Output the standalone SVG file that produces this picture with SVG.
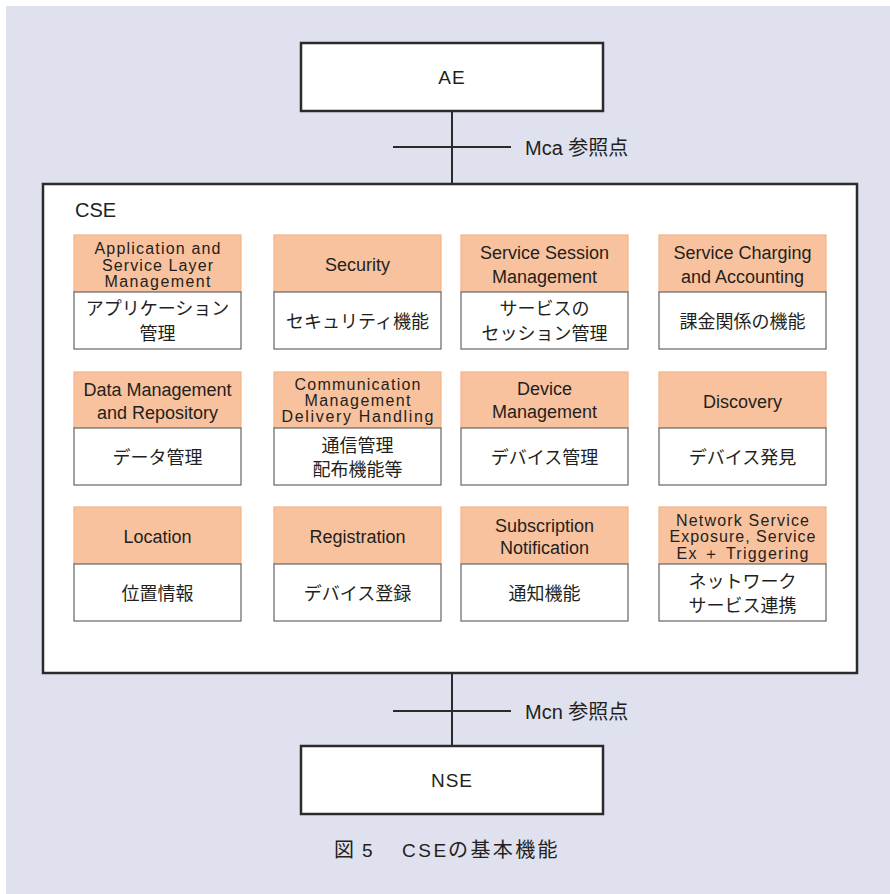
<svg xmlns="http://www.w3.org/2000/svg" width="890" height="894" viewBox="0 0 890 894">
<style>
.lat{font-family:"Liberation Sans",Arial,sans-serif;fill:#231f20}
.jp{font-family:"Noto Sans CJK JP","Noto Sans CJK SC",sans-serif;fill:#231f20}
.box{fill:#ffffff;stroke:#2b2b2b;stroke-width:2.5}
.hd{fill:#f9c29e;stroke:#f3b288;stroke-width:1.2}
.bd{fill:#ffffff;stroke:#707070;stroke-width:1.3}
.ln{stroke:#2b2b2b;stroke-width:2;fill:none}
.h18{font-size:18px;text-anchor:middle}
.h15{font-size:16px;text-anchor:middle}
.j18{font-size:18px;text-anchor:middle}
</style>
<rect x="6" y="6" width="884" height="888" fill="#dfe1ef"/>

<g id="connectors">
<line class="ln" x1="452" y1="111" x2="452" y2="184"/>
<line class="ln" x1="393" y1="147" x2="511" y2="147"/>
<line class="ln" x1="452" y1="673" x2="452" y2="746"/>
<line class="ln" x1="393" y1="711" x2="511" y2="711"/>
<text class="lat" x="525" y="155" font-size="20">Mca <tspan class="jp" font-size="20">参照点</tspan></text>
<text class="lat" x="525" y="719" font-size="20">Mcn <tspan class="jp" font-size="20">参照点</tspan></text>
</g>

<g id="AE">
<rect class="box" x="301" y="43" width="302" height="68"/>
<text class="lat" x="452" y="84" font-size="19" text-anchor="middle" letter-spacing="1">AE</text>
</g>

<g id="NSE">
<rect class="box" x="301" y="746" width="302" height="68"/>
<text class="lat" x="452" y="787" font-size="19" text-anchor="middle" letter-spacing="1">NSE</text>
</g>

<g id="CSE">
<rect class="box" x="43" y="184" width="814" height="489"/>
<text class="lat" x="75" y="217" font-size="20">CSE</text>
</g>

<!-- Row 1 -->
<g id="asl">
<rect class="hd" x="74" y="235" width="167" height="57"/>
<rect class="bd" x="74" y="292" width="167" height="57"/>
<text class="lat h15" x="157.5" y="254" textLength="126" lengthAdjust="spacing">Application and</text>
<text class="lat h15" x="157.5" y="270.5" textLength="111" lengthAdjust="spacing">Service Layer</text>
<text class="lat h15" x="157.5" y="287" textLength="106" lengthAdjust="spacing">Management</text>
<text class="jp j18" x="157.5" y="315">アプリケーション</text>
<text class="jp j18" x="157.5" y="340">管理</text>
</g>
<g id="security">
<rect class="hd" x="274" y="235" width="167" height="57"/>
<rect class="bd" x="274" y="292" width="167" height="57"/>
<text class="lat h18" x="357.5" y="271">Security</text>
<text class="jp j18" x="357.5" y="327.5">セキュリティ機能</text>
</g>
<g id="ssm">
<rect class="hd" x="461" y="235" width="167" height="57"/>
<rect class="bd" x="461" y="292" width="167" height="57"/>
<text class="lat h18" x="544.5" y="259">Service Session</text>
<text class="lat h18" x="544.5" y="283">Management</text>
<text class="jp j18" x="544.5" y="315">サービスの</text>
<text class="jp j18" x="544.5" y="340">セッション管理</text>
</g>
<g id="sca">
<rect class="hd" x="659" y="235" width="167" height="57"/>
<rect class="bd" x="659" y="292" width="167" height="57"/>
<text class="lat h18" x="742.5" y="259">Service Charging</text>
<text class="lat h18" x="742.5" y="283">and Accounting</text>
<text class="jp j18" x="742.5" y="327.5">課金関係の機能</text>
</g>

<!-- Row 2 -->
<g id="dmr">
<rect class="hd" x="74" y="372" width="167" height="56"/>
<rect class="bd" x="74" y="428" width="167" height="57"/>
<text class="lat h18" x="157.5" y="396">Data Management</text>
<text class="lat h18" x="157.5" y="419">and Repository</text>
<text class="jp j18" x="157.5" y="463.5">データ管理</text>
</g>
<g id="cmdh">
<rect class="hd" x="274" y="372" width="167" height="56"/>
<rect class="bd" x="274" y="428" width="167" height="57"/>
<text class="lat h15" x="357.5" y="390" textLength="126" lengthAdjust="spacing">Communication</text>
<text class="lat h15" x="357.5" y="406" textLength="106" lengthAdjust="spacing">Management</text>
<text class="lat h15" x="357.5" y="422" textLength="152" lengthAdjust="spacing">Delivery Handling</text>
<text class="jp j18" x="357.5" y="451.5">通信管理</text>
<text class="jp j18" x="357.5" y="476">配布機能等</text>
</g>
<g id="dm">
<rect class="hd" x="461" y="372" width="167" height="56"/>
<rect class="bd" x="461" y="428" width="167" height="57"/>
<text class="lat h18" x="544.5" y="395">Device</text>
<text class="lat h18" x="544.5" y="418">Management</text>
<text class="jp j18" x="544.5" y="463.5">デバイス管理</text>
</g>
<g id="discovery">
<rect class="hd" x="659" y="372" width="167" height="56"/>
<rect class="bd" x="659" y="428" width="167" height="57"/>
<text class="lat h18" x="742.5" y="408">Discovery</text>
<text class="jp j18" x="742.5" y="463.5">デバイス発見</text>
</g>

<!-- Row 3 -->
<g id="location">
<rect class="hd" x="74" y="507" width="167" height="57"/>
<rect class="bd" x="74" y="564" width="167" height="57"/>
<text class="lat h18" x="157.5" y="543">Location</text>
<text class="jp j18" x="157.5" y="599.5">位置情報</text>
</g>
<g id="registration">
<rect class="hd" x="274" y="507" width="167" height="57"/>
<rect class="bd" x="274" y="564" width="167" height="57"/>
<text class="lat h18" x="357.5" y="543">Registration</text>
<text class="jp j18" x="357.5" y="599.5">デバイス登録</text>
</g>
<g id="subscription">
<rect class="hd" x="461" y="507" width="167" height="57"/>
<rect class="bd" x="461" y="564" width="167" height="57"/>
<text class="lat h18" x="544.5" y="531.5">Subscription</text>
<text class="lat h18" x="544.5" y="554">Notification</text>
<text class="jp j18" x="544.5" y="599.5">通知機能</text>
</g>
<g id="nse-exposure">
<rect class="hd" x="659" y="507" width="167" height="57"/>
<rect class="bd" x="659" y="564" width="167" height="57"/>
<text class="lat h15" x="742.5" y="525.5" textLength="133" lengthAdjust="spacing">Network Service</text>
<text class="lat h15" x="742.5" y="542" textLength="146" lengthAdjust="spacing">Exposure, Service</text>
<text class="lat h15" x="742.5" y="558.5" textLength="132" lengthAdjust="spacing">Ex ＋ Triggering</text>
<text class="jp j18" x="742.5" y="587.5">ネットワーク</text>
<text class="jp j18" x="742.5" y="611.5">サービス連携</text>
</g>

<g id="caption">
<text class="jp" x="334" y="857" font-size="20">図</text>
<text class="lat" x="362" y="857" font-size="19">5</text>
<text class="lat" x="402" y="857" font-size="19" letter-spacing="2.5">CSE</text>
<text class="jp" x="448" y="857" font-size="20" letter-spacing="2.4">の基本機能</text>
</g>
</svg>
